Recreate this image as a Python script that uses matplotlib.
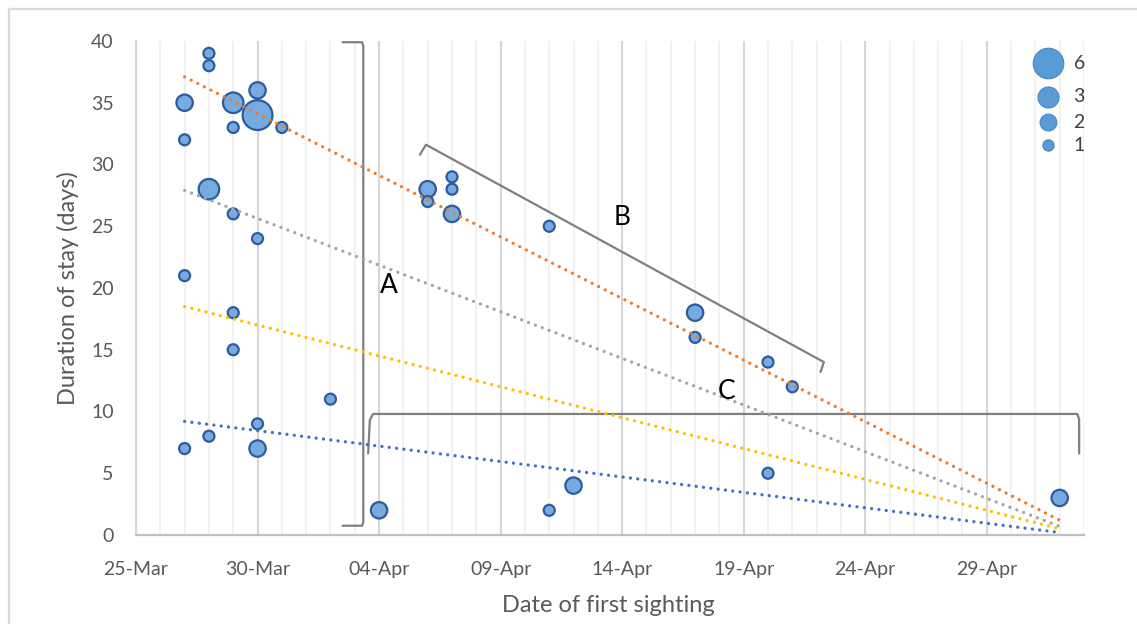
import matplotlib
matplotlib.use("Agg")
import matplotlib.pyplot as plt
import matplotlib.dates as mdates
from matplotlib.lines import Line2D
import numpy as np
import pandas as pd

plt.rcParams['font.family'] = ['Lato', 'DejaVu Sans']

# data
first_seen = ["27-Mar", "27-Mar", "27-Mar", "27-Mar",
              "28-Mar", "28-Mar", "28-Mar", "28-Mar",
              "29-Mar", "29-Mar", "29-Mar", "29-Mar", "29-Mar",
              "30-Mar", "30-Mar", "30-Mar", "30-Mar", "30-Mar",
              "31-Mar", "02-Apr", "04-Apr", "06-Apr", "06-Apr",
              "07-Apr", "07-Apr", "07-Apr", "11-Apr", "11-Apr", "12-Apr",
              "17-Apr", "17-Apr", "20-Apr", "20-Apr", "21-Apr", "02-May"]
stay_days = [35, 32, 21, 7,
             39, 38, 28, 8,
             35, 33, 26, 18, 15,
             36, 34, 24, 9, 7,
             33, 11, 2, 28, 27,
             29, 28, 26, 25, 2, 4,
             18, 16, 14, 5, 12, 3]
bird_count = [2, 1, 1, 1,
              1, 1, 3, 1,
              3, 1, 1, 1, 1,
              2, 6, 1, 1, 2,
              1, 1, 2, 2, 1,
              1, 1, 2, 1, 1, 2,
              2, 1, 1, 1, 1, 2]

legend_counts = [6, 3, 2, 1]

# dotted trend lines (start value on 27-Mar, end value on 02-May)
trend_dates = ["27-Mar", "02-May"]
trend_start = [37.1, 27.9, 18.5, 9.2]
trend_end = [1.2, 0.7, 0.5, 0.2]
trend_colors = ["#ED7D31", "#A5A5A5", "#FFC000", "#4472C4"]

YEAR = "2019"


def to_date(s):
    return pd.to_datetime(s + "-" + YEAR, format="%d-%b-%Y")


x = mdates.date2num([to_date(s) for s in first_seen])
y = np.array(stay_days)
cnt = np.array(bird_count)

x0 = mdates.date2num(to_date("25-Mar"))
x1 = mdates.date2num(to_date("03-May"))

fig = plt.figure(figsize=(11.37, 6.24), dpi=100)
ax = fig.add_axes([136 / 1137, 1 - 535 / 624, (1084 - 136) / 1137, (535 - 41) / 624])

# bubble size: diameter ~13 px * sqrt(count)
def bubble_s(c):
    return (0.72 * (13 * np.sqrt(c) - 2)) ** 2

ax.scatter(x, y, s=bubble_s(cnt), facecolor="#76ABDF", edgecolor="#2E5B9E",
           linewidth=1.6, zorder=3)

tx = mdates.date2num([to_date(s) for s in trend_dates])
for a, b, c in zip(trend_start, trend_end, trend_colors):
    ax.plot(tx, [a, b], color=c, lw=2.4, linestyle=(0, (0.01, 2.2)),
            dash_capstyle="round", zorder=4)

ax.set_xlim(x0, x1)
ax.set_ylim(0, 40)

major = mdates.date2num(pd.date_range(to_date("25-Mar"), periods=8, freq="5D"))
minor = mdates.date2num(pd.date_range(to_date("25-Mar"), to_date("03-May"), freq="D"))
ax.set_xticks(major)
ax.set_xticks(minor, minor=True)
ax.xaxis.set_major_formatter(mdates.DateFormatter("%d-%b"))
ax.set_yticks(np.arange(0, 41, 5))

ax.grid(True, axis="x", which="minor", color="#EFEFEF", lw=1.2, zorder=0)
ax.grid(True, axis="x", which="major", color="#D6D6D6", lw=1.5, zorder=0)
ax.set_axisbelow(True)

ax.tick_params(axis="both", which="both", length=0, colors="#595959", labelsize=14)
ax.tick_params(axis="x", pad=19)
ax.tick_params(axis="y", pad=16)
for side in ["top", "right"]:
    ax.spines[side].set_visible(False)
ax.spines["left"].set_color("#D6D6D6")
ax.spines["left"].set_linewidth(1.5)
ax.spines["bottom"].set_color("#BFBFBF")
ax.spines["bottom"].set_linewidth(1.6)

fig.text(608 / 1137, 1 - 606 / 624, "Date of first sighting", ha="center", va="center",
         fontsize=17, color="#595959")
fig.text(68 / 1137, 1 - 288 / 624, "Duration of stay (days)", ha="center", va="center",
         rotation=90, fontsize=17, color="#595959")

# group brackets (day offsets from 25-Mar, values)
def d(off):
    return x0 + off

br = dict(color="#7F7F7F", lw=1.6, clip_on=False, zorder=2, solid_capstyle="round")
ax.plot([d(8.5), d(9.3), d(9.35), d(9.35), d(9.3), d(8.5)],
        [39.9, 39.9, 39.6, 1.05, 0.75, 0.75], **br)
ax.plot([d(11.68), d(11.93), d(28.3), d(28.16)], [30.8, 31.6, 14.0, 13.2], **br)
ax.plot([d(9.55), d(9.62), d(9.75), d(38.72), d(38.8), d(38.8)],
        [6.6, 9.3, 9.8, 9.8, 9.4, 6.6], **br)

lab = dict(fontsize=19, color="black", ha="center", va="center", zorder=5)
ax.text(d(10.4), 20.2, "A", **lab)
ax.text(d(20.0), 25.7, "B", **lab)
ax.text(d(24.3), 11.6, "C", **lab)

# bubble legend
leg_y = [0.955, 0.887, 0.836, 0.789]
for c, ly in zip(legend_counts, leg_y):
    ax.scatter([0.962], [ly], s=bubble_s(c) * 1.05, transform=ax.transAxes,
               facecolor="#5B9BD5", edgecolor="#4A88C2", linewidth=0.8,
               clip_on=False, zorder=5)
    ax.text(0.989, ly, str(c), transform=ax.transAxes, ha="left", va="center",
            fontsize=14, color="#404040")

# chart-area border
fig.add_artist(Line2D([9 / 1137, 1], [1 - 9 / 624, 1 - 9 / 624], color="#D9D9D9", lw=1.6))
fig.add_artist(Line2D([9 / 1137, 9 / 1137], [0, 1 - 9 / 624], color="#D9D9D9", lw=1.6))

fig.savefig("out.png", dpi=100)
